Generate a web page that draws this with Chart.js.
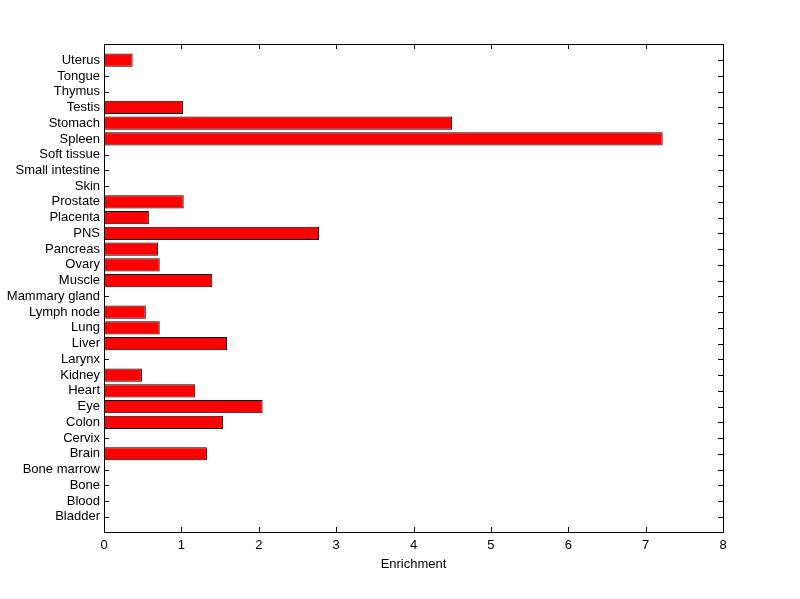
<!DOCTYPE html>
<html>
<head>
<meta charset="utf-8">
<script src="https://cdn.jsdelivr.net/npm/chart.js@4/dist/chart.umd.min.js"></script>
<style>
html,body{margin:0;padding:0;background:#fff;}
canvas{display:block;}
</style>
</head>
<body>
<canvas id="c" width="800" height="599"></canvas>
<script>
const categories = ["Uterus","Tongue","Thymus","Testis","Stomach","Spleen","Soft tissue","Small intestine","Skin","Prostate","Placenta","PNS","Pancreas","Ovary","Muscle","Mammary gland","Lymph node","Lung","Liver","Larynx","Kidney","Heart","Eye","Colon","Cervix","Brain","Bone marrow","Bone","Blood","Bladder"];
const enrichment = [0.37,0,0,1.02,4.50,7.22,0,0,0,1.03,0.58,2.78,0.70,0.72,1.40,0,0.54,0.72,1.59,0,0.49,1.18,2.05,1.54,0,1.33,0,0,0,0];
const xTicks = [0,1,2,3,4,5,6,7,8];
const xTitle = "Enrichment";

const FONT = {family: "'Liberation Sans', Arial, sans-serif", size: 13};

const frameTicks = {
  id: 'frameTicks',
  beforeDatasetsDraw(chart) {
    const {ctx, chartArea: a, scales} = chart;
    ctx.save();
    ctx.strokeStyle = '#000';
    ctx.lineWidth = 1;
    ctx.beginPath();
    const L = 5;
    scales.x.ticks.forEach((t, i) => {
      const px = Math.round(scales.x.getPixelForTick(i)) + 0.5;
      ctx.moveTo(px, a.bottom); ctx.lineTo(px, a.bottom - L);
      ctx.moveTo(px, a.top); ctx.lineTo(px, a.top + L);
    });
    scales.y.ticks.forEach((t, i) => {
      const py = Math.round(scales.y.getPixelForTick(i)) + 0.5;
      ctx.moveTo(a.left, py); ctx.lineTo(a.left + L, py);
      ctx.moveTo(a.right, py); ctx.lineTo(a.right - L, py);
    });
    ctx.stroke();
    ctx.restore();
  },
  afterDatasetsDraw(chart) {
    const {ctx, chartArea: a} = chart;
    ctx.save();
    ctx.strokeStyle = '#000';
    ctx.lineWidth = 1;
    ctx.strokeRect(Math.round(a.left) + 0.5, Math.round(a.top) + 0.5, Math.round(a.right - a.left), Math.round(a.bottom - a.top));
    ctx.restore();
  }
};

new Chart(document.getElementById('c'), {
  type: 'bar',
  data: {
    labels: categories,
    datasets: [{
      data: enrichment,
      backgroundColor: '#ff0000',
      borderColor: '#000000',
      borderWidth: 1,
      borderSkipped: false,
      barPercentage: 0.84,
      categoryPercentage: 1.0
    }]
  },
  options: {
    indexAxis: 'y',
    responsive: false,
    animation: false,
    devicePixelRatio: 1,
    layout: {padding: {left: 0, top: 44, right: 77, bottom: 27}},
    plugins: {legend: {display: false}, tooltip: {enabled: false}},
    scales: {
      x: {
        type: 'linear',
        min: xTicks[0],
        max: xTicks[xTicks.length - 1],
        afterBuildTicks(scale) { scale.ticks = xTicks.map(v => ({value: v})); },
        afterFit(scale) { scale.height = 40; },
        grid: {display: false, drawTicks: false},
        border: {display: false},
        ticks: {color: '#000', font: FONT, padding: 6, maxRotation: 0},
        title: {display: true, text: xTitle, color: '#000', font: FONT, padding: {top: 1, bottom: 0}}
      },
      y: {
        type: 'category',
        offset: false,
        afterBuildTicks(scale) {
          scale._startValue = -1.03;
          scale._valueRange = categories.length + 1;
        },
        afterFit(scale) { scale.width = 104; },
        grid: {display: false, drawTicks: false},
        border: {display: false},
        ticks: {color: '#000', font: FONT, padding: 4, autoSkip: false}
      }
    }
  },
  plugins: [frameTicks]
});
</script>
</body>
</html>
